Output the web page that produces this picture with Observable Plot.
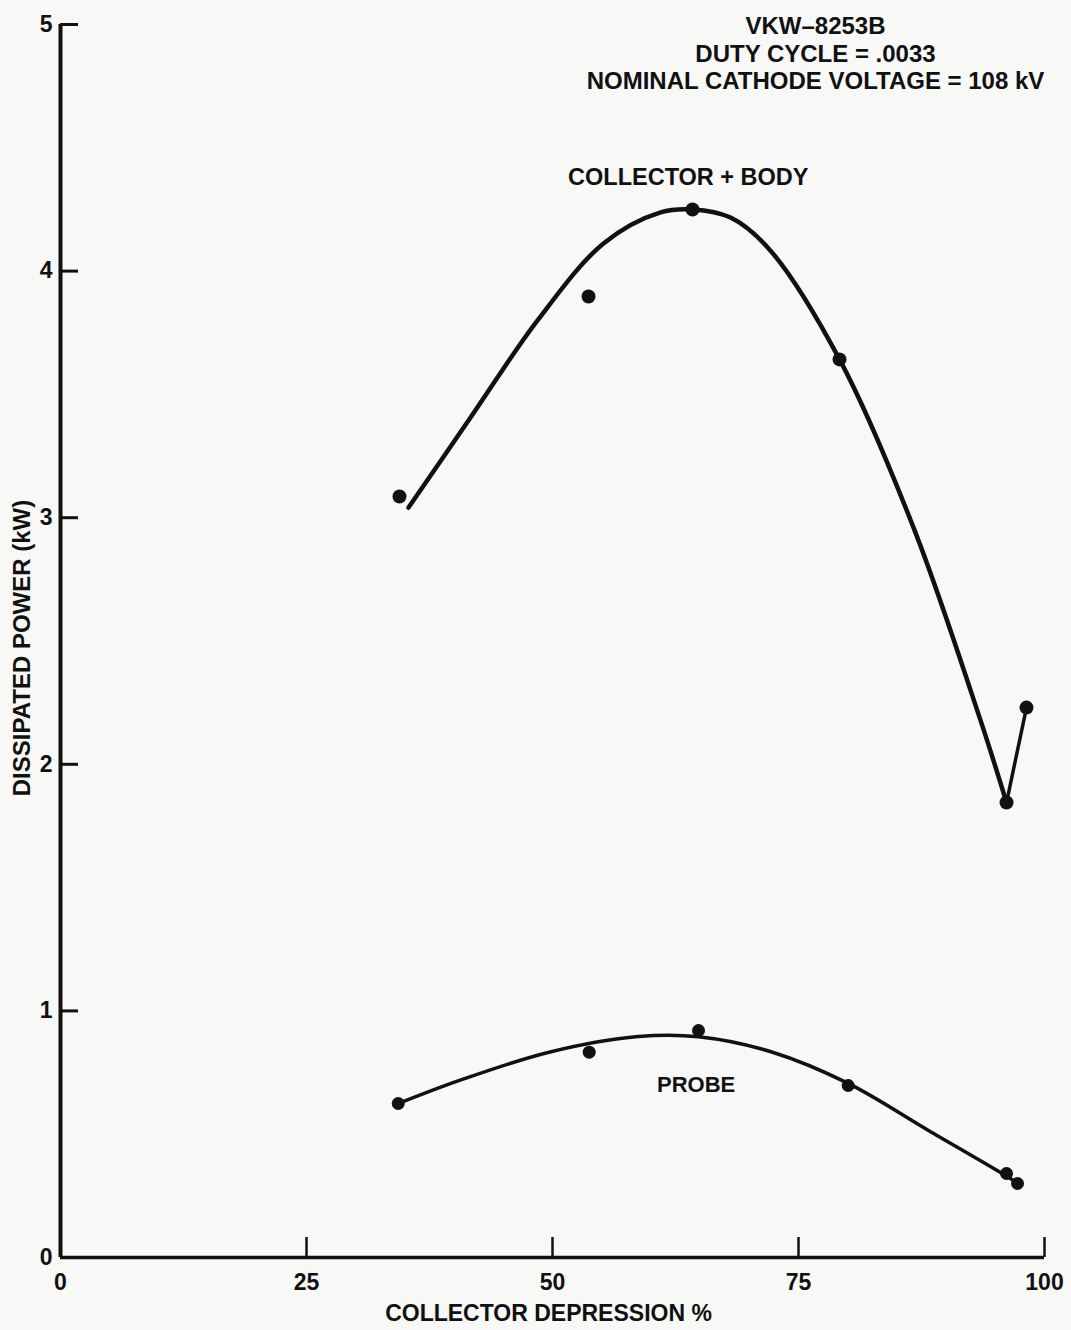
<!DOCTYPE html>
<html>
<head>
<meta charset="utf-8">
<script src="https://cdn.jsdelivr.net/npm/d3@7"></script>
<script src="https://cdn.jsdelivr.net/npm/@observablehq/plot@0.6"></script>
<style>
  html, body { margin: 0; padding: 0; background: #f8f8f6; }
  #chart { width: 1071px; height: 1330px; }
</style>
</head>
<body>
<div id="chart"></div>
<script>
// ---- data ----
const xTicks = [0, 25, 50, 75, 100];
const yTicks = [0, 1, 2, 3, 4, 5];
const xLabel = "COLLECTOR DEPRESSION %";
const yLabel = "DISSIPATED POWER (kW)";
const titleLines = ["VKW\u20138253B", "DUTY CYCLE = .0033", "NOMINAL CATHODE VOLTAGE = 108 kV"];
const bodyLabel = "COLLECTOR + BODY";
const probeLabel = "PROBE";

// measured points: collector + body
const bodyDotsX = [34.45, 53.66, 64.23, 79.17, 96.14, 98.17];
const bodyDotsY = [3.086, 3.897, 4.250, 3.642, 1.845, 2.230];
// hand-drawn fitted curve: collector + body
const bodyCurveX = [35.37, 41.67, 48.48, 55.18, 60.98, 64.23, 68.09, 72.0, 79.17, 86.69, 93.5, 96.14];
const bodyCurveY = [3.041, 3.406, 3.800, 4.112, 4.238, 4.250, 4.217, 4.090, 3.642, 2.960, 2.178, 1.845];

// measured points: probe
const probeDotsX = [34.32, 53.73, 64.84, 80.05, 96.14, 97.26];
const probeDotsY = [0.6245, 0.8325, 0.9205, 0.6975, 0.3406, 0.300];
// hand-drawn fitted curve: probe
const probeCurveX = [34.35, 40.55, 49.65, 58.74, 64.84, 72.36, 80.05, 88.21, 96.85, 97.36];
const probeCurveY = [0.6245, 0.718, 0.8325, 0.896, 0.895, 0.8325, 0.706, 0.515, 0.312, 0.296];

// ---- tables built from arrays ----
const bodyDots = bodyDotsX.map((x, i) => ({x, y: bodyDotsY[i]}));
const bodyCurve = bodyCurveX.map((x, i) => ({x, y: bodyCurveY[i]}));
const bodyTail = bodyDots.slice(-2);
const probeDots = probeDotsX.map((x, i) => ({x, y: probeDotsY[i]}));
const probeCurve = probeCurveX.map((x, i) => ({x, y: probeCurveY[i]}));

const ink = "#111";
const font = "'Liberation Sans', Arial, sans-serif";

const chart = Plot.plot({
  width: 1071,
  height: 1330,
  marginLeft: 60,
  marginRight: 27,
  marginTop: 24,
  marginBottom: 73,
  x: {domain: [0, 100]},
  y: {domain: [0, 5]},
  style: {background: "#f8f8f6", color: ink, fontFamily: font, fontWeight: "bold", fontSize: "23px"},
  marks: [
    // axis lines
    Plot.ruleX([0], {stroke: ink, strokeWidth: 4}),
    Plot.ruleY([0], {stroke: ink, strokeWidth: 3.5}),
    // axes with inward ticks
    Plot.axisY({ticks: yTicks, tickFormat: d3.format("d"), tickSize: -18, tickPadding: 26, strokeWidth: 3, label: null, fontSize: 23, fontWeight: "bold", fill: ink}),
    Plot.axisX({ticks: xTicks, tickFormat: d3.format("d"), tickSize: -20, tickPadding: 36, strokeWidth: 2.5, label: null, fontSize: 23, fontWeight: "bold", fill: ink}),
    // axis titles
    Plot.text([yLabel], {text: d => d, frameAnchor: "left", textAnchor: "middle", lineAnchor: "middle", dx: -38, dy: 7, rotate: -90, fontSize: 24, fontWeight: "bold", fill: ink}),
    Plot.text([xLabel], {text: d => d, frameAnchor: "bottom", textAnchor: "middle", lineAnchor: "middle", dy: 56, dx: -4, fontSize: 23, fontWeight: "bold", fill: ink}),
    // title block
    Plot.text([titleLines.join("\n")], {text: d => d, frameAnchor: "top", textAnchor: "middle", dx: 263, dy: -10, lineAnchor: "top", lineHeight: 1.15, fontSize: 24, fontWeight: "bold", fill: ink}),
    // series labels
    Plot.text([bodyLabel], {text: d => d, x: 63.8, y: 4.38, fontSize: 23.5, fontWeight: "bold", fill: ink}),
    Plot.text([probeLabel], {text: d => d, x: 64.6, y: 0.70, fontSize: 22, fontWeight: "bold", fill: ink}),
    // curves
    Plot.line(bodyCurve, {x: "x", y: "y", curve: "catmull-rom", stroke: ink, strokeWidth: 4.5, strokeLinecap: "round"}),
    Plot.line(bodyTail, {x: "x", y: "y", stroke: ink, strokeWidth: 3.5}),
    Plot.line(probeCurve, {x: "x", y: "y", curve: "catmull-rom", stroke: ink, strokeWidth: 3.5, strokeLinecap: "round"}),
    // measured points
    Plot.dot(bodyDots, {x: "x", y: "y", r: 7, fill: ink, stroke: "none"}),
    Plot.dot(probeDots, {x: "x", y: "y", r: 6.5, fill: ink, stroke: "none"})
  ]
});
document.getElementById("chart").appendChild(chart);
</script>
</body>
</html>
